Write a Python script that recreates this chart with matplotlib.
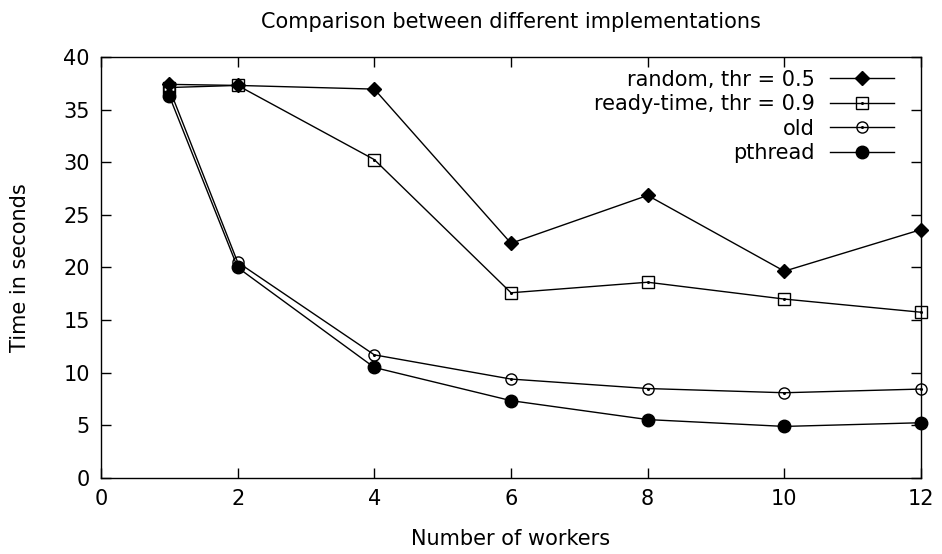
import matplotlib
matplotlib.use("Agg")
import matplotlib.pyplot as plt

# Wall-clock time for each scheduler, by number of workers
workers = [1, 2, 4, 6, 8, 10, 12]
random_thr05 = [37.4, 37.3, 36.95, 22.3, 26.85, 19.65, 23.6]
ready_time_thr09 = [37.1, 37.3, 30.25, 17.6, 18.6, 17.0, 15.75]
old = [37.0, 20.5, 11.7, 9.4, 8.5, 8.1, 8.45]
pthread = [36.3, 20.0, 10.5, 7.35, 5.55, 4.9, 5.25]

labels = ["random, thr = 0.5", "ready-time, thr = 0.9", "old", "pthread"]
xticks = [0, 2, 4, 6, 8, 10, 12]
yticks = [0, 5, 10, 15, 20, 25, 30, 35, 40]

FS = 15
plt.rcParams["font.family"] = "DejaVu Sans"
plt.rcParams["font.size"] = FS

fig = plt.figure(figsize=(9.42, 5.54), dpi=100)
ax = fig.add_axes([0.1072, 0.1372, 0.8705, 0.7599])

lw = 1.0
handles = []

h, = ax.plot(workers, random_thr05, color="black", lw=lw, marker="D",
             markersize=6.8, markerfacecolor="black", markeredgecolor="black",
             clip_on=False, zorder=3)
handles.append(h)

# open markers get a small dot in the centre, gnuplot style
for series, mk, ms in [(ready_time_thr09, "s", 8.2), (old, "o", 8.0)]:
    line, = ax.plot(workers, series, color="black", lw=lw, marker=mk,
                    markersize=ms, markerfacecolor="none",
                    markeredgecolor="black", markeredgewidth=1.0,
                    clip_on=False, zorder=3)
    dot, = ax.plot(workers, series, linestyle="none", marker="o",
                   markersize=1.2, color="black", clip_on=False, zorder=3)
    handles.append((line, dot))

h, = ax.plot(workers, pthread, color="black", lw=lw, marker="o",
             markersize=9.0, markerfacecolor="black", markeredgecolor="black",
             clip_on=False, zorder=3)
handles.append(h)

ax.set_xlim(0, 12)
ax.set_ylim(0, 40)
ax.set_xticks(xticks)
ax.set_yticks(yticks)
ax.tick_params(direction="in", length=7.5, width=1.0, top=True, right=True,
               labelsize=FS, pad=8)
for spine in ax.spines.values():
    spine.set_linewidth(1.0)

ax.set_xlabel("Number of workers", fontsize=FS, labelpad=14)
ax.set_ylabel("Time in seconds", fontsize=FS, labelpad=24)
ax.set_title("Comparison between different implementations",
             fontsize=FS, pad=21)

ax.legend(handles, labels, loc="upper right", frameon=False,
          markerfirst=False, handlelength=3.07, handletextpad=0.72,
          labelspacing=0.22, borderaxespad=0.2,
          bbox_to_anchor=(0.982, 1.0), fontsize=FS)

fig.savefig("out.png", dpi=100)
